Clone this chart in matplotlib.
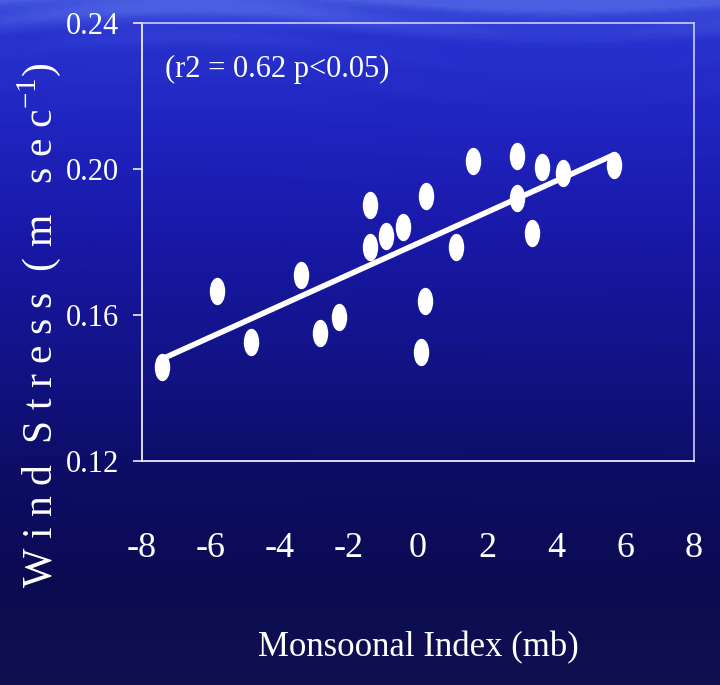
import numpy as np
import matplotlib
matplotlib.use("Agg")
import matplotlib.pyplot as plt
from matplotlib.path import Path
from matplotlib.markers import MarkerStyle
from matplotlib.transforms import Affine2D
from matplotlib.colors import LinearSegmentedColormap

plt.rcParams["font.family"] = ["Liberation Serif", "DejaVu Serif"]
plt.rcParams["mathtext.fontset"] = "custom"
plt.rcParams["mathtext.rm"] = "Liberation Serif"
plt.rcParams["axes.unicode_minus"] = False

# Monsoonal index (mb) vs. wind stress (m/s) for each year
monsoon_index = [-7.43, -5.82, -4.85, -3.40, -2.84, -2.28, -1.39, -1.39, -0.93, -0.43,
                 0.23, 0.20, 0.08, 1.10, 1.58, 2.88, 2.88, 3.30, 3.59, 4.19, 5.69]
wind_stress = [0.1457, 0.1667, 0.1527, 0.1709, 0.1552, 0.1594, 0.1901, 0.1787, 0.1817, 0.1842,
               0.1926, 0.1637, 0.1498, 0.1787, 0.2023, 0.2036, 0.1921, 0.1824, 0.2005, 0.1988, 0.2011]

x_ticks = [-8, -6, -4, -2, 0, 2, 4, 6, 8]
y_ticks = [0.12, 0.16, 0.20, 0.24]
stats_label = "(r2 = 0.62 p<0.05)"

W, H, DPI = 720, 685, 100
fig = plt.figure(figsize=(W / DPI, H / DPI), dpi=DPI)

# slide-style blue backdrop: bright at the top fading to deep navy
bg = fig.add_axes([0, 0, 1, 1], zorder=-10)
bg.set_axis_off()
stops = [(0.00, (75, 95, 225)), (0.025, (55, 70, 215)), (0.06, (40, 50, 205)),
         (0.18, (32, 36, 192)), (0.36, (24, 24, 165)), (0.55, (18, 18, 130)),
         (0.70, (13, 13, 100)), (0.85, (11, 11, 82)), (1.00, (16, 16, 80))]
cmap = LinearSegmentedColormap.from_list(
    "backdrop", [(p, tuple(c / 255 for c in rgb)) for p, rgb in stops])
rows = np.linspace(0, 1, H)[:, None]
cols = np.linspace(0, 1, W)[None, :]
streaks = 0.012 * np.sin(rows * 140 + 3 * np.sin(cols * 6)) * np.exp(-rows * 3)
bg.imshow(np.clip(rows + streaks, 0, 1) * np.ones_like(cols), cmap=cmap,
          vmin=0, vmax=1, aspect="auto", extent=[0, 1, 0, 1], origin="upper")

ax = fig.add_axes([142 / W, 1 - 461 / H, 552 / W, 438 / H])
ax.set_facecolor("none")

# regression line through the yearly values
slope, intercept = np.polyfit(monsoon_index, wind_stress, 1)
xs = np.array([min(monsoon_index), max(monsoon_index)])
ax.plot(xs, slope * xs + intercept, color="white", lw=4.0,
        solid_capstyle="round", zorder=2)

# tall oval markers
oval = Path.unit_circle().transformed(Affine2D().scale(0.54, 1.0))
ax.plot(monsoon_index, wind_stress, linestyle="none",
        marker=MarkerStyle(oval), markersize=18.7,
        markerfacecolor="white", markeredgecolor="white", zorder=3)

ax.set_xlim(-8, 8)
ax.set_ylim(0.12, 0.24)
ax.set_xticks(x_ticks)
ax.set_xticklabels([str(v) for v in x_ticks])
ax.set_yticks(y_ticks)
ax.set_yticklabels([f"{v:.2f}" for v in y_ticks])

ax.tick_params(axis="x", length=0, pad=51, labelsize=26, labelcolor="white")
ax.tick_params(axis="y", length=6.5, width=1.1, color="white", direction="out",
               pad=10, labelsize=22, labelcolor="white")

for side in ["left", "bottom"]:
    ax.spines[side].set_color("white")
    ax.spines[side].set_linewidth(1.2)
for side in ["top", "right"]:
    ax.spines[side].set_color("#c9ccff")
    ax.spines[side].set_linewidth(1.2)

ax.set_xlabel("Monsoonal Index (mb)", fontsize=25, color="white")
ax.xaxis.label.set_va("center")
ax.xaxis.set_label_coords(0.5, -0.427)

fig.text(39 / W, 1 - 325 / H,
         r"W i n d  S t r e s s  ( m   s e c$^{-1}$)",
         rotation=90, ha="center", va="center", fontsize=30, color="white")

ax.text(0.042, 0.893, stats_label, transform=ax.transAxes, ha="left",
        va="center", fontsize=22, color="white")

fig.savefig("out.png", dpi=DPI)
